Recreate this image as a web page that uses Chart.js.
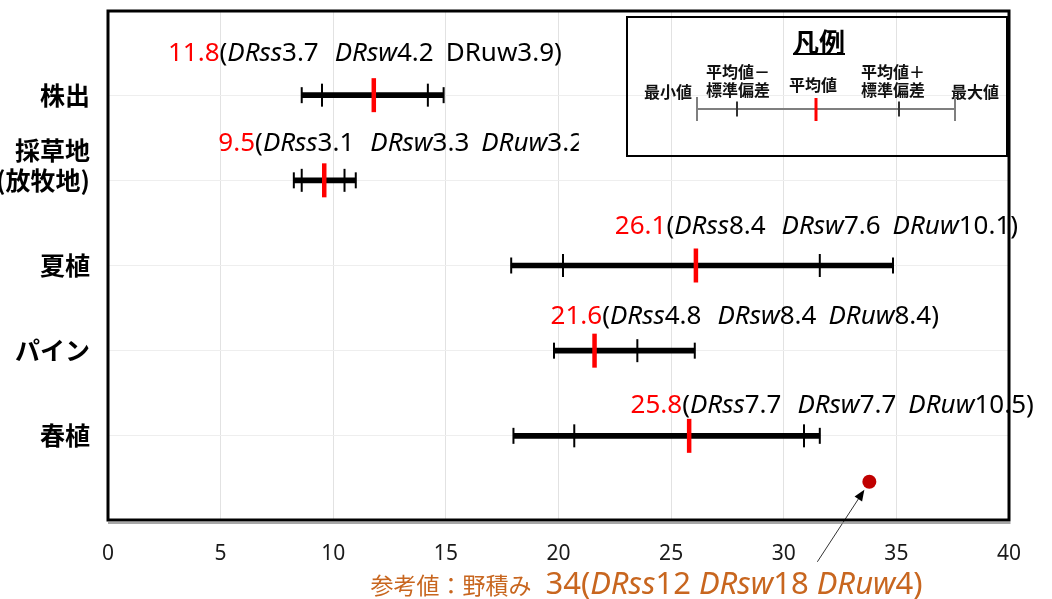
<!DOCTYPE html>
<html>
<head>
<meta charset="utf-8">
<script src="https://cdn.jsdelivr.net/npm/chart.js@4.4.1/dist/chart.umd.min.js"></script>
<style>
  html, body { margin: 0; padding: 0; background: #fff; }
  #wrap { width: 1052px; height: 599px; }
</style>
</head>
<body>
<div id="wrap"><canvas id="chart"></canvas></div>
<script>
'use strict';

// ── Data ──────────────────────────────────────────────────────────────────────
const categories = ['株出', ['採草地', '(放牧地)', ''], '夏植', 'パイン', '春植'];
const rowPos     = [5, 4, 3, 2, 1];
const minVals    = [8.6, 8.25, 17.9, 19.8, 18.0];
const sdLowVals  = [9.5, 8.6, 20.2, null, 20.7];
const meanVals   = [11.8, 9.6, 26.1, 21.6, 25.8];
const sdHighVals = [14.2, 10.5, 31.6, 23.5, 30.9];
const maxVals    = [14.9, 11.0, 34.85, 26.05, 31.6];
const meanLabels = ['11.8', '9.5', '26.1', '21.6', '25.8'];
const drssVals   = ['3.7', '3.1', '8.4', '4.8', '7.7'];
const drswVals   = ['4.2', '3.3', '7.6', '8.4', '7.7'];
const druwVals   = ['3.9', '3.2', '10.1', '8.4', '10.5'];
const refValue   = 33.8;
const refPos     = 0.46;
const refText    = ['参考値：野積み', '34', '12', '18', '4'];

// ── Layout (label anchors in axis units) ──────────────────────────────────────
const labelX   = [2.66, 4.9, 22.5, 19.65, 23.2];
const labelY   = [5.49, 4.43, 3.46, 2.40, 1.36];
const labelClip = [null, 20.9, null, null, null];
const uwItalic = [false, true, true, true, true];

const RED = '#ff0000';
const ORANGE = '#c8661f';
const LATIN = "'Noto Sans', 'DejaVu Sans', sans-serif";
const CJK = "'Noto Sans CJK JP', 'Noto Sans', sans-serif";

function drawRuns(ctx, x, y, runs) {
  runs.forEach(r => {
    if (r.gap) { x += r.gap; return; }
    ctx.font = r.font;
    ctx.fillStyle = r.color;
    ctx.fillText(r.text, x, y);
    x += ctx.measureText(r.text).width;
  });
}

// ── Row labels, reference label, arrow ────────────────────────────────────────
const annotations = {
  id: 'annotations',
  afterDatasetsDraw(chart) {
    const { ctx, scales: { x, y }, chartArea } = chart;
    ctx.save();
    ctx.textBaseline = 'middle';
    ctx.textAlign = 'left';
    const f  = `26px ${LATIN}`;
    const fi = `italic 26px ${LATIN}`;
    rowPos.forEach((_, i) => {
      ctx.save();
      if (labelClip[i] != null) {
        ctx.beginPath();
        ctx.rect(0, 0, x.getPixelForValue(labelClip[i]), chart.height);
        ctx.clip();
      }
      drawRuns(ctx, x.getPixelForValue(labelX[i]), y.getPixelForValue(labelY[i]), [
        { text: meanLabels[i], font: f, color: RED },
        { text: '(', font: f, color: '#000' },
        { text: 'DRss', font: fi, color: '#000' },
        { text: drssVals[i], font: f, color: '#000' },
        { gap: 16 },
        { text: 'DRsw', font: fi, color: '#000' },
        { text: drswVals[i], font: f, color: '#000' },
        { gap: 12 },
        { text: 'DRuw', font: uwItalic[i] ? fi : f, color: '#000' },
        { text: druwVals[i] + ')', font: f, color: '#000' },
      ]);
      ctx.restore();
    });

    // arrow to the reference point
    const px = x.getPixelForValue(refValue), py = y.getPixelForValue(refPos);
    const hx = px - 5, hy = py + 8, tx = px - 52, ty = py + 80;
    const ang = Math.atan2(hy - ty, hx - tx);
    ctx.strokeStyle = '#333';
    ctx.lineWidth = 1;
    ctx.beginPath();
    ctx.moveTo(tx, ty);
    ctx.lineTo(hx - Math.cos(ang) * 8, hy - Math.sin(ang) * 8);
    ctx.stroke();
    ctx.fillStyle = '#000';
    ctx.beginPath();
    ctx.moveTo(hx, hy);
    ctx.lineTo(hx - 11 * Math.cos(ang) + 4.5 * Math.sin(ang), hy - 11 * Math.sin(ang) - 4.5 * Math.cos(ang));
    ctx.lineTo(hx - 11 * Math.cos(ang) - 4.5 * Math.sin(ang), hy - 11 * Math.sin(ang) + 4.5 * Math.cos(ang));
    ctx.closePath();
    ctx.fill();

    // reference label below the axis
    ctx.textBaseline = 'alphabetic';
    const rf  = `31px ${LATIN}`;
    const rfi = `italic 31px ${LATIN}`;
    drawRuns(ctx, x.getPixelForValue(11.65), chartArea.bottom + 73, [
      { text: refText[0], font: `23px ${CJK}`, color: ORANGE },
      { gap: 14 },
      { text: refText[1] + '(', font: rf, color: ORANGE },
      { text: 'DRss', font: rfi, color: ORANGE },
      { text: refText[2] + ' ', font: rf, color: ORANGE },
      { text: 'DRsw', font: rfi, color: ORANGE },
      { text: refText[3] + ' ', font: rf, color: ORANGE },
      { text: 'DRuw', font: rfi, color: ORANGE },
      { text: refText[4] + ')', font: rf, color: ORANGE },
    ]);
    ctx.restore();
  },

  afterDraw(chart) {
    const { ctx, chartArea: a } = chart;
    ctx.save();
    // plot frame
    ctx.strokeStyle = '#000';
    ctx.lineWidth = 3;
    ctx.strokeRect(a.left, a.top + 1, a.right - a.left, a.bottom - a.top - 2);
    ctx.strokeStyle = '#8a8a8a';
    ctx.lineWidth = 1.5;
    ctx.beginPath();
    ctx.moveTo(a.left, a.bottom + 2);
    ctx.lineTo(a.right + 1.5, a.bottom + 2);
    ctx.stroke();

    // legend box (凡例)
    const L = { x: 627, y: 17, w: 380, h: 139 };
    ctx.strokeStyle = '#000';
    ctx.lineWidth = 2;
    ctx.strokeRect(L.x, L.y, L.w, L.h);

    ctx.fillStyle = '#000';
    ctx.textAlign = 'center';
    ctx.textBaseline = 'middle';
    ctx.font = `bold 26px ${CJK}`;
    ctx.fillText('凡例', L.x + 192, L.y + 25);
    const tw = ctx.measureText('凡例').width;
    ctx.fillRect(L.x + 192 - tw / 2, L.y + 36, tw, 2);

    ctx.font = `bold 16px ${CJK}`;
    ctx.fillStyle = '#111';
    ctx.fillText('最小値', L.x + 41, L.y + 75);
    ctx.fillText('平均値－', L.x + 111, L.y + 55);
    ctx.fillText('標準偏差', L.x + 111, L.y + 73);
    ctx.fillText('平均値', L.x + 186, L.y + 68);
    ctx.fillText('平均値＋', L.x + 266, L.y + 55);
    ctx.fillText('標準偏差', L.x + 266, L.y + 73);
    ctx.fillText('最大値', L.x + 348, L.y + 75);

    const ly = L.y + 92;
    ctx.strokeStyle = '#7f7f7f';
    ctx.lineWidth = 2;
    ctx.beginPath();
    ctx.moveTo(L.x + 70, ly); ctx.lineTo(L.x + 328, ly);
    [[70, 12], [328, 12]].forEach(([dx, h]) => { ctx.moveTo(L.x + dx, ly - h); ctx.lineTo(L.x + dx, ly + h); });
    ctx.stroke();
    ctx.strokeStyle = '#333';
    ctx.beginPath();
    [[110, 7.5], [272, 7.5]].forEach(([dx, h]) => { ctx.moveTo(L.x + dx, ly - h); ctx.lineTo(L.x + dx, ly + h); });
    ctx.stroke();
    ctx.strokeStyle = RED;
    ctx.lineWidth = 3;
    ctx.beginPath();
    ctx.moveTo(L.x + 189, ly - 11); ctx.lineTo(L.x + 189, ly + 12);
    ctx.stroke();
    ctx.restore();
  }
};

// ── Chart ─────────────────────────────────────────────────────────────────────
const rangePts = rowPos.map((y, i) => ({ x: [minVals[i], maxVals[i]], y }));
const endPts   = rowPos.flatMap((y, i) => [{ x: minVals[i], y }, { x: maxVals[i], y }]);
const sdPts    = rowPos.flatMap((y, i) =>
  [sdLowVals[i], sdHighVals[i]].filter(v => v != null).map(x => ({ x, y })));
const meanPts  = rowPos.map((y, i) => ({ x: meanVals[i], y }));

new Chart(document.getElementById('chart'), {
  type: 'scatter',
  data: {
    datasets: [
      {
        type: 'bar', indexAxis: 'y', data: rangePts, order: 5,
        backgroundColor: '#000', borderWidth: 0, barThickness: 5,
      },
      {
        data: endPts, order: 4, showLine: false,
        pointStyle: 'line', pointRotation: 90, pointRadius: 8,
        pointBorderWidth: 2, pointBorderColor: '#000',
      },
      {
        data: sdPts, order: 3, showLine: false,
        pointStyle: 'line', pointRotation: 90, pointRadius: 11.5,
        pointBorderWidth: 2, pointBorderColor: '#000',
      },
      {
        data: meanPts, order: 2, showLine: false,
        pointStyle: 'line', pointRotation: 90, pointRadius: 17,
        pointBorderWidth: 4.5, pointBorderColor: RED,
      },
      {
        data: [{ x: refValue, y: refPos }], order: 1, showLine: false,
        pointStyle: 'circle', pointRadius: 7,
        pointBackgroundColor: '#c00000', pointBorderColor: '#c00000', pointBorderWidth: 0,
      },
    ]
  },
  options: {
    responsive: true,
    maintainAspectRatio: false,
    animation: false,
    layout: { autoPadding: false, padding: { top: 10, right: 43, left: 0, bottom: 0 } },
    plugins: { legend: { display: false }, tooltip: { enabled: false } },
    scales: {
      x: {
        type: 'linear', min: 0, max: 40, offset: false,
        ticks: { stepSize: 5, padding: 20, color: '#1a1a1a', font: { family: LATIN, size: 21 } },
        grid: { color: '#e2e2e2', drawTicks: false, offset: false },
        border: { display: false },
        afterFit: s => { s.height = 78; s.paddingLeft = 0; s.paddingRight = 0; },
      },
      y: {
        type: 'linear', min: 0, max: 6, offset: false,
        ticks: {
          stepSize: 1, padding: 18, color: '#000', autoSkip: false,
          font: { family: CJK, size: 25, weight: 'bold', lineHeight: 1.2 },
          callback: v => { const i = rowPos.indexOf(v); return i >= 0 ? categories[i] : ''; },
        },
        grid: {
          drawTicks: false, offset: false,
          color: c => rowPos.includes(c.tick && c.tick.value) ? '#eeeeee' : 'rgba(0,0,0,0)',
        },
        border: { display: false },
        afterFit: s => { s.width = 108; s.paddingTop = 0; s.paddingBottom = 0; },
      }
    }
  },
  plugins: [annotations]
});
</script>
</body>
</html>
